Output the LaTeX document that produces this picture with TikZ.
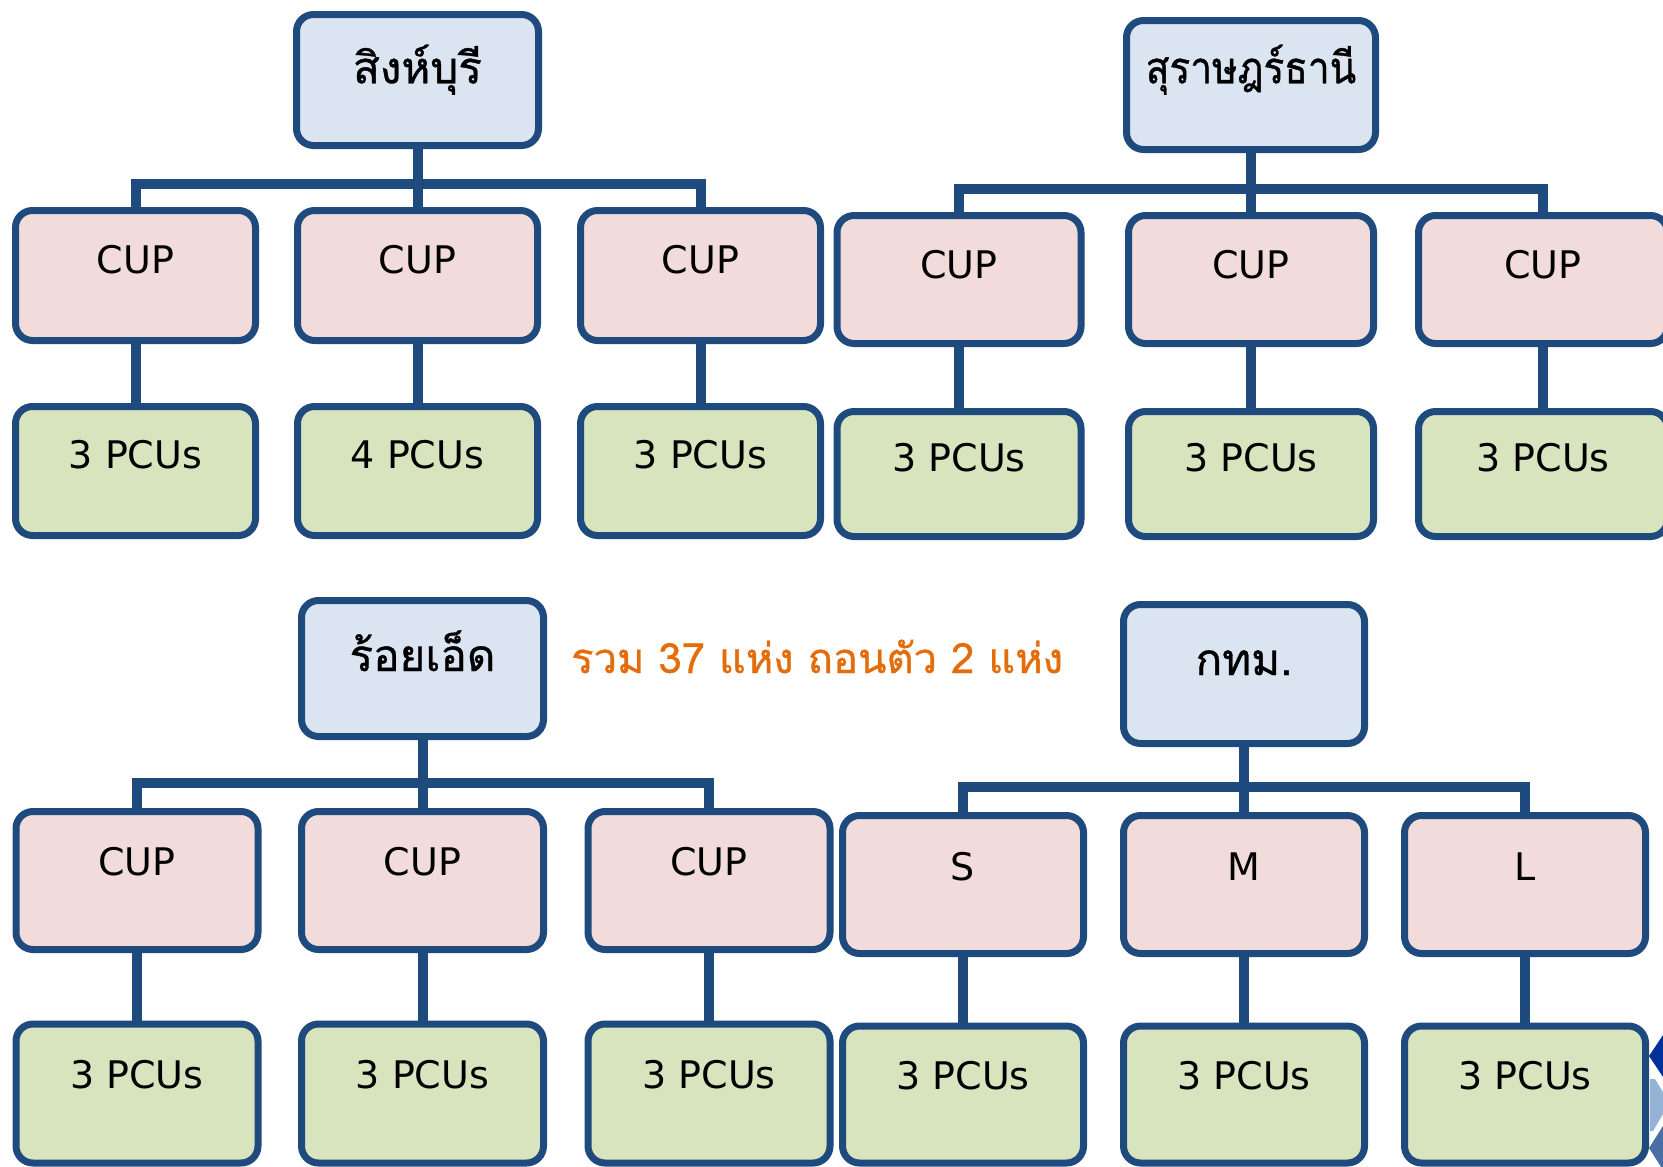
\documentclass[tikz,border=0pt]{standalone}
\usepackage{fontspec}
\setmainfont{DejaVu Sans}
\newfontfamily\thaifont[Script=Thai,FakeBold=0.8]{Loma}
\newfontfamily\thainarrow[Script=Thai,FakeStretch=0.88,FakeBold=0.8]{Loma}
\usetikzlibrary{backgrounds}
\definecolor{bord}{HTML}{1F4A7E}
\definecolor{hfill}{HTML}{DBE5F1}
\definecolor{cfill}{HTML}{F2DCDB}
\definecolor{pfill}{HTML}{D7E4BD}
\definecolor{orng}{HTML}{E46C0A}
\definecolor{chevA}{HTML}{00309A}
\definecolor{chevB}{HTML}{95B3D7}
\definecolor{chevC}{HTML}{4A6FA5}
\begin{document}
\begin{tikzpicture}[x=1pt,y=-1pt,
  box/.style={draw=bord, line width=7pt, rounded corners=17pt, inner sep=0pt, text=black},
  hdr/.style={box, fill=hfill, font=\thaifont\fontsize{44}{52}\selectfont, text height=40pt, text depth=#1},
  cupbox/.style={box, fill=cfill, font=\fontsize{38}{46}\selectfont, text height=32pt, text depth=#1},
  pcubox/.style={box, fill=pfill, font=\fontsize{38}{46}\selectfont, text height=32pt, text depth=#1},
  conn/.style={draw=bord, line width=10pt},
  note/.style={text=orng, font=\thaifont\fontsize{41.7}{48}\selectfont, inner sep=0pt, anchor=base west}
]
\useasboundingbox (0,0) rectangle (1663,1167);

% ---- top left
\node[hdr=33.4pt, minimum width=242pt, minimum height=131pt] (h1) at (417.5,80) {สิงห์บุรี};
\node[cupbox=37pt, minimum width=240pt, minimum height=130pt] (c11) at (135.5,275.5) {CUP};
\node[cupbox=37pt, minimum width=240pt, minimum height=130pt] (c12) at (417.5,275.5) {CUP};
\node[cupbox=37pt, minimum width=240pt, minimum height=130pt] (c13) at (700.5,275.5) {CUP};
\node[pcubox=38pt, minimum width=240pt, minimum height=129pt] (p11) at (135.5,471) {3 PCUs};
\node[pcubox=38pt, minimum width=240pt, minimum height=129pt] (p12) at (417.5,471) {4 PCUs};
\node[pcubox=38pt, minimum width=240pt, minimum height=129pt] (p13) at (700.5,471) {3 PCUs};

% ---- top right
\node[hdr=43.4pt, font=\thainarrow\fontsize{44}{52}\selectfont, minimum width=249pt, minimum height=129pt] (h2) at (1251,85) {สุราษฎร์ธานี};
\node[cupbox=34.5pt, minimum width=244pt, minimum height=128pt] (c21) at (959,279.5) {CUP};
\node[cupbox=34.5pt, minimum width=245pt, minimum height=128pt] (c22) at (1251,279.5) {CUP};
\node[cupbox=34.5pt, minimum width=249pt, minimum height=128pt] (c23) at (1543,279.5) {CUP};
\node[pcubox=36.6pt, minimum width=244pt, minimum height=125pt] (p21) at (959,474) {3 PCUs};
\node[pcubox=36.6pt, minimum width=245pt, minimum height=125pt] (p22) at (1251,474) {3 PCUs};
\node[pcubox=36.6pt, minimum width=249pt, minimum height=125pt] (p23) at (1543,474) {3 PCUs};

% ---- bottom left
\node[hdr=35pt, minimum width=242pt, minimum height=136pt] (h3) at (422.5,668.5) {ร้อยเอ็ด};
\node[cupbox=42pt, minimum width=242pt, minimum height=138pt] (c31) at (137,880.5) {CUP};
\node[cupbox=42pt, minimum width=242pt, minimum height=138pt] (c32) at (422.5,880.5) {CUP};
\node[cupbox=42pt, minimum width=242pt, minimum height=138pt] (c33) at (709,880.5) {CUP};
\node[pcubox=43pt, minimum width=242pt, minimum height=139pt] (p31) at (137,1093.5) {3 PCUs};
\node[pcubox=43pt, minimum width=242pt, minimum height=139pt] (p32) at (422.5,1093.5) {3 PCUs};
\node[pcubox=43pt, minimum width=242pt, minimum height=139pt] (p33) at (709,1093.5) {3 PCUs};

% ---- bottom right
\node[hdr=38pt, minimum width=241pt, minimum height=139pt] (h4) at (1244,674) {กทม.};
\node[cupbox=41pt, minimum width=241pt, minimum height=138pt] (c41) at (963,884.5) {S};
\node[cupbox=41pt, minimum width=241pt, minimum height=138pt] (c42) at (1244,884.5) {M};
\node[cupbox=41pt, minimum width=241pt, minimum height=138pt] (c43) at (1525,884.5) {L};
\node[pcubox=42pt, minimum width=241pt, minimum height=137pt] (p41) at (963,1094.5) {3 PCUs};
\node[pcubox=42pt, minimum width=241pt, minimum height=137pt] (p42) at (1244,1094.5) {3 PCUs};
\node[pcubox=42pt, minimum width=241pt, minimum height=137pt] (p43) at (1525,1094.5) {3 PCUs};

% ---- note
\node[note] (sum) at (571,673) {รวม 37 แห่ง ถอนตัว 2 แห่ง};

% ---- connectors
\begin{scope}[on background layer]
  \fill[white] (0,0) rectangle (1663,1167);
  \coordinate (bar1) at (0,184);
  \coordinate (bar2) at (0,189);
  \coordinate (bar3) at (0,783);
  \coordinate (bar4) at (0,787);
  \foreach \c in {c11,c12,c13} \draw[conn] (h1.south) -- (h1.south |- bar1) -| (\c.north);
  \foreach \c in {c21,c22,c23} \draw[conn] (h2.south) -- (h2.south |- bar2) -| (\c.north);
  \foreach \c in {c31,c32,c33} \draw[conn] (h3.south) -- (h3.south |- bar3) -| (\c.north);
  \foreach \c in {c41,c42,c43} \draw[conn] (h4.south) -- (h4.south |- bar4) -| (\c.north);
  \foreach \a/\b in {c11/p11,c12/p12,c13/p13,c21/p21,c22/p22,c23/p23,c31/p31,c32/p32,c33/p33,c41/p41,c42/p42,c43/p43}
    \draw[conn] (\a.south) -- (\b.north);
\end{scope}

% ---- corner decoration
\fill[chevA] (1663,1035) -- (1649,1056) -- (1663,1077) -- cycle;
\fill[chevB] (1650,1079) -- (1655,1079) -- (1663,1092) -- (1663,1114) -- (1653,1131) -- (1650,1131) -- cycle;
\fill[chevC] (1663,1126) -- (1649,1148) -- (1663,1170) -- cycle;
\end{tikzpicture}
\end{document}
